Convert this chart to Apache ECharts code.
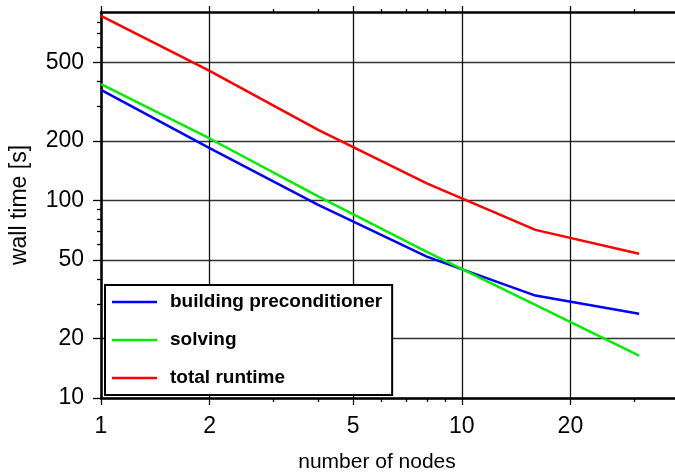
<!DOCTYPE html>
<html>
<head>
<meta charset="utf-8">
<script src="https://cdn.jsdelivr.net/npm/echarts@6/dist/echarts.min.js"></script>
<style>
html,body{margin:0;padding:0;background:#fff;}
#chart{width:675px;height:475px;}
</style>
</head>
<body>
<div id="chart"></div>
<script>
const nodes = [1, 2, 4, 8, 16, 31];
const buildingPreconditioner = [363, 184, 95, 52, 33, 26.7];
const solving = [388, 206, 105, 55, 29.6, 16.4];
const totalRuntime = [861, 453, 228, 122, 71, 53.7];

const xMajorTicks = [1, 2, 5, 10, 20];
const xMinorTicks = [3, 4, 6, 7, 8, 9, 30];
const yMajorTicks = [10, 20, 50, 100, 200, 500];
const yMinorTicks = [30, 40, 60, 70, 80, 90, 300, 400, 600, 700, 800];

const seriesNames = ['building preconditioner', 'solving', 'total runtime'];
const seriesColors = ['#0000ff', '#00ee00', '#ff0000'];
const seriesValues = [buildingPreconditioner, solving, totalRuntime];

const X_MIN = 1, X_MAX = 40, Y_MIN = 10, Y_MAX = 900;
const FONT = '"Liberation Sans", Arial, Helvetica, sans-serif';

function pairs(vals) { return nodes.map((n, i) => [n, vals[i]]); }

function xAx(extra) {
  return Object.assign({
    type: 'log', logBase: 10, min: X_MIN, max: X_MAX, gridIndex: 0,
    axisLine: { show: false },
    axisLabel: { show: false },
    splitLine: { show: false },
    axisTick: { show: false }
  }, extra);
}
function yAx(extra) {
  return Object.assign({
    type: 'log', logBase: 10, min: Y_MIN, max: Y_MAX, gridIndex: 0,
    axisLine: { show: false },
    axisLabel: { show: false },
    splitLine: { show: false },
    axisTick: { show: false }
  }, extra);
}

const chart = echarts.init(document.getElementById('chart'), null, { renderer: 'canvas' });
chart.setOption({
  animation: false,
  backgroundColor: '#fff',
  grid: { left: 101, width: 578, top: 12, bottom: 77, containLabel: false, outerBoundsMode: 'none' },
  xAxis: [
    xAx({
      position: 'bottom',
      name: 'number of nodes', nameLocation: 'middle', nameGap: 54,
      nameTextStyle: { fontFamily: FONT, fontSize: 21, color: '#000', padding: [0, 26, 0, 0] },
      axisLine: { show: true, onZero: false, lineStyle: { color: '#000', width: 2.5 } },
      axisTick: { show: true, customValues: xMajorTicks, length: 7, lineStyle: { color: '#000', width: 1.3 } },
      axisLabel: { show: true, customValues: xMajorTicks, margin: 17, fontFamily: FONT, fontSize: 23, color: '#000',
        formatter: v => String(Math.round(v)) },
      splitLine: { show: true, lineStyle: { color: '#111', width: 1.3 } }
    }),
    xAx({
      position: 'bottom',
      axisTick: { show: true, customValues: xMinorTicks, length: 4, lineStyle: { color: '#000', width: 1.3 } }
    }),
    xAx({
      position: 'top',
      axisLine: { show: true, onZero: false, lineStyle: { color: '#000', width: 2.5 } },
      axisTick: { show: true, customValues: xMajorTicks, length: 6, lineStyle: { color: '#000', width: 1.3 } }
    }),
    xAx({
      position: 'top',
      axisTick: { show: true, customValues: xMinorTicks, length: 3, lineStyle: { color: '#000', width: 1.3 } }
    })
  ],
  yAxis: [
    yAx({
      position: 'left',
      name: 'wall time [s]', nameLocation: 'middle', nameGap: 70, nameRotate: 90,
      nameTextStyle: { fontFamily: FONT, fontSize: 23, color: '#000' },
      axisLine: { show: true, onZero: false, lineStyle: { color: '#000', width: 2.5 } },
      axisTick: { show: true, customValues: yMajorTicks, length: 8, lineStyle: { color: '#000', width: 1.3 } },
      axisLabel: { show: true, customValues: yMajorTicks, margin: 17, fontFamily: FONT, fontSize: 23, color: '#000',
        formatter: v => String(Math.round(v)) },
      splitLine: { show: true, lineStyle: { color: '#333', width: 1.3 } }
    }),
    yAx({
      position: 'left',
      axisTick: { show: true, customValues: yMinorTicks, length: 4, lineStyle: { color: '#000', width: 1.3 } }
    })
  ],
  legend: {
    orient: 'vertical',
    left: 105, top: 285,
    padding: [7, 10, 7, 7],
    itemWidth: 45, itemHeight: 14, itemGap: 18,
    borderColor: '#000', borderWidth: 2, backgroundColor: '#fff',
    textStyle: { fontFamily: FONT, fontSize: 19, fontWeight: 'bold', color: '#000', lineHeight: 20, padding: [0, 0, 0, 8] },
    data: seriesNames.map(n => ({ name: n, icon: 'path://M0,0L45,0L45,2.5L0,2.5Z' })),
    z: 10
  },
  series: seriesNames.map((name, i) => ({
    name: name,
    type: 'line',
    xAxisIndex: 0, yAxisIndex: 0,
    data: pairs(seriesValues[i]),
    symbol: 'none',
    color: seriesColors[i],
    lineStyle: { color: seriesColors[i], width: 2.5 },
    z: 3
  }))
});
</script>
</body>
</html>
